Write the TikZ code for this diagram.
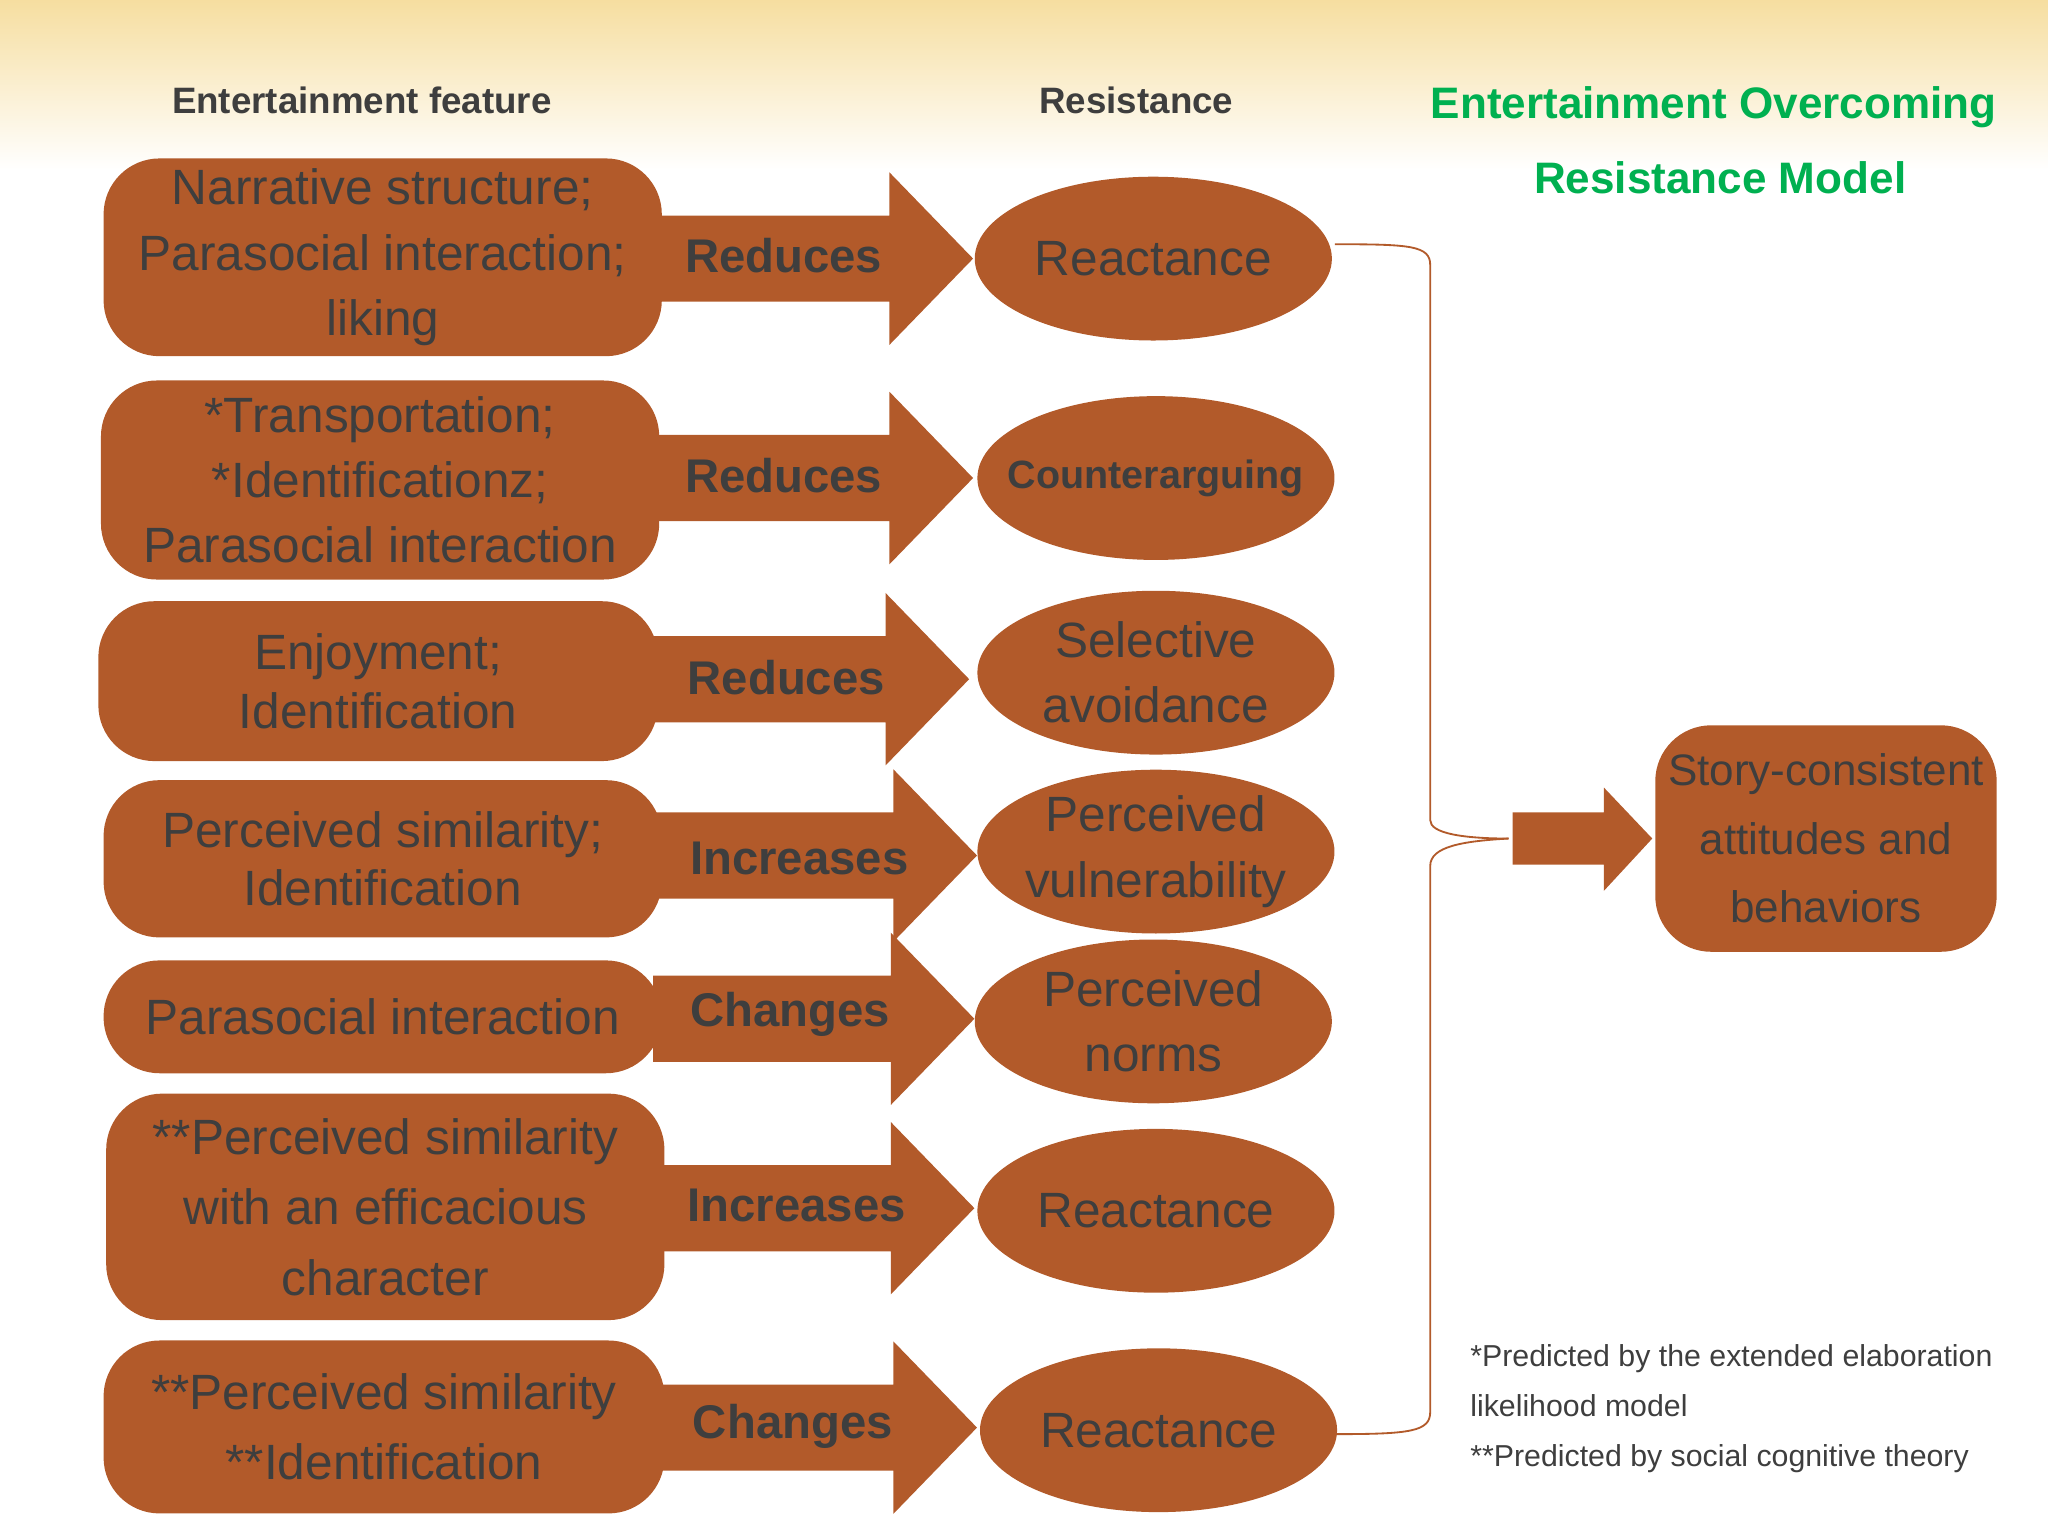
\documentclass[tikz,border=0pt]{standalone}
\usepackage{fontspec}
\setmainfont{Liberation Sans}
\usetikzlibrary{shapes.geometric}
\definecolor{rust}{RGB}{178,90,42}
\definecolor{ink}{RGB}{62,62,62}
\definecolor{titlegreen}{RGB}{0,176,80}
\definecolor{cream}{RGB}{246,222,160}
\tikzset{
  feature/.style={fill=rust,draw=rust,rounded corners=12pt,text=ink,align=center,
    font=\fontsize{10.8}{14.2}\selectfont,inner sep=0pt},
  resist/.style={ellipse,fill=rust,draw=rust,text=ink,align=center,
    minimum width=2.72cm,minimum height=1.24cm,inner xsep=-6pt,inner ysep=0pt,
    font=\fontsize{10.8}{14.2}\selectfont},
  verb/.style={text=ink,font=\bfseries\fontsize{10.3}{12}\selectfont},
  head/.style={text=ink,font=\bfseries\fontsize{8}{10}\selectfont},
}
% block arrow: start x, tip x, centre y
\newcommand{\blockarrow}[3]{%
  \fill[rust] (#1,#3+0.33) -- (#2-0.64,#3+0.33) -- (#2-0.64,#3+0.66) -- (#2,#3)
    -- (#2-0.64,#3-0.66) -- (#2-0.64,#3-0.33) -- (#1,#3-0.33) -- cycle;}
\begin{document}
\begin{tikzpicture}
\useasboundingbox (0,0) rectangle (15.68,11.68);
\shade[top color=cream,bottom color=white] (0,10.38) rectangle (15.68,11.68);

\node[head] at (2.77,10.91) {Entertainment feature};
\node[head] at (8.70,10.91) {Resistance};
\node[text=titlegreen,font=\bfseries\fontsize{9.6}{12}\selectfont] at (13.12,10.86) {Entertainment Overcoming};
\node[text=titlegreen,font=\bfseries\fontsize{9.6}{12}\selectfont] at (13.17,10.32) {Resistance Model};

% arrows
\blockarrow{5.0}{7.45}{9.70}
\blockarrow{5.0}{7.45}{8.02}
\blockarrow{5.0}{7.42}{6.48}
\blockarrow{5.0}{7.48}{5.13}
\blockarrow{5.0}{7.46}{3.88}
\blockarrow{5.0}{7.46}{2.43}
\blockarrow{5.0}{7.48}{0.75}

% features
\node[feature,minimum width=4.26cm,minimum height=1.50cm] (f1) at (2.93,9.71) {Narrative structure;\\Parasocial interaction;\\liking};
\node[feature,minimum width=4.26cm,minimum height=1.51cm] (f2) at (2.91,8.005) {*Transportation;\\*Identificationz;\\Parasocial interaction};
\node[feature,minimum width=4.27cm,minimum height=1.21cm] (f3) at (2.895,6.465) {Enjoyment;\\[-0.05cm]Identification};
\node[feature,minimum width=4.26cm,minimum height=1.19cm] (f4) at (2.93,5.105) {Perceived similarity;\\[-0.05cm]Identification};
\node[feature,minimum width=4.26cm,minimum height=0.85cm] (f5) at (2.93,3.895) {Parasocial interaction};
\node[feature,minimum width=4.26cm,minimum height=1.72cm] (f6) at (2.95,2.44) {**Perceived similarity\\[0.04cm]with an efficacious\\[0.04cm]character};
\node[feature,minimum width=4.28cm,minimum height=1.31cm] (f7) at (2.94,0.755) {**Perceived similarity\\[0.04cm]**Identification};

% verbs
\node[verb] at (6.00,9.72) {Reduces};
\node[verb] at (6.00,8.04) {Reduces};
\node[verb] at (6.02,6.49) {Reduces};
\node[verb] at (6.12,5.11) {Increases};
\node[verb] at (6.05,3.91) {Changes};
\node[verb] at (6.10,2.45) {Increases};
\node[verb] at (6.07,0.76) {Changes};

% resistance
\node[resist] (r1) at (8.83,9.70) {Reactance};
\node[resist,inner xsep=-14pt,font=\bfseries\fontsize{8.6}{10}\selectfont] (r2) at (8.85,8.02) {Counterarguing};
\node[resist] (r3) at (8.85,6.53) {Selective\\avoidance};
\node[resist,inner xsep=-14pt] (r4) at (8.85,5.16) {Perceived\\vulnerability};
\node[resist] (r5) at (8.83,3.86) {Perceived\\norms};
\node[resist] (r6) at (8.85,2.41) {Reactance};
\node[resist] (r7) at (8.87,0.73) {Reactance};

% bracket
\coordinate (bt) at (10.22,9.81);
\coordinate (bb) at (10.22,0.70);
\coordinate (bm) at (11.55,5.26);
\draw[rust,thin] (bt) .. controls (10.80,9.81) and (10.95,9.80) .. (10.95,9.65)
  -- (10.95,5.40) .. controls (10.95,5.30) and (11.20,5.26) .. (bm);
\draw[rust,thin] (bb) .. controls (10.80,0.70) and (10.95,0.72) .. (10.95,0.87)
  -- (10.95,5.05) .. controls (10.95,5.20) and (11.20,5.24) .. (bm);

\fill[rust] (11.58,5.46) -- (12.28,5.46) -- (12.28,5.65) -- (12.65,5.26)
  -- (12.28,4.86) -- (12.28,5.06) -- (11.58,5.06) -- cycle;
\node[feature,minimum width=2.60cm,minimum height=1.72cm,
  font=\fontsize{9.6}{13.5}\selectfont] (out) at (13.98,5.26)
  {Story-consistent\\[0.05cm]attitudes and\\[0.05cm]behaviors};

\node[text=ink,align=left,anchor=north west,inner sep=0pt,
  font=\fontsize{6.6}{10.8}\selectfont] at (11.25,1.39)
  {*Predicted by the extended elaboration\\likelihood model\\**Predicted by social cognitive theory};
\end{tikzpicture}
\end{document}
